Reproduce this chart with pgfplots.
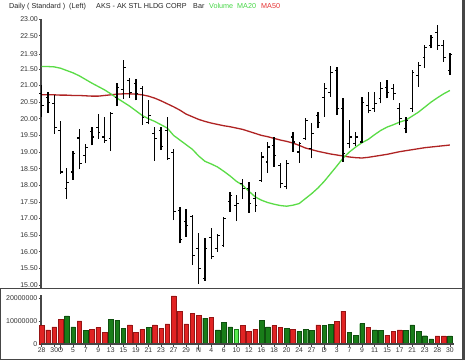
\documentclass[border=0pt]{standalone}
\usepackage{pgfplots}
\pgfplotsset{compat=1.18}
\usepackage{pgfplotstable}
\usepackage{fontspec}
\setmainfont{Liberation Sans}
\definecolor{ma20}{RGB}{90,220,70}
\definecolor{ma50}{RGB}{175,35,35}
\definecolor{vred}{RGB}{225,35,35}
\definecolor{vredd}{RGB}{150,20,20}
\definecolor{vgrn}{RGB}{25,125,25}
\definecolor{vgrnd}{RGB}{15,80,15}
\definecolor{vlgrn}{RGB}{90,235,80}
\definecolor{frm}{RGB}{70,70,70}
\definecolor{ttlgreen}{RGB}{70,215,70}
\definecolor{ttlred}{RGB}{230,50,50}

\pgfplotstableread{
i o h l c
0 20.75 21.02 20.05 20.40
1 20.65 20.81 20.18 20.50
2 20.45 20.72 19.55 19.75
3 19.65 19.93 18.35 18.40
4 17.90 18.52 17.58 18.08
5 18.40 19.02 18.16 18.95
6 19.42 19.70 18.48 18.66
7 18.90 19.23 18.66 19.13
8 19.62 19.75 19.20 19.45
9 19.75 20.15 19.40 19.60
10 19.45 20.05 19.28 19.35
11 19.40 20.20 19.03 20.15
12 20.65 21.08 20.38 20.95
13 20.88 21.77 20.60 21.54
14 21.15 21.24 20.63 20.80
15 21.05 21.20 20.55 20.75
16 20.90 21.00 19.82 20.05
17 19.88 20.56 19.83 20.10
18 19.55 19.76 18.73 19.40
19 19.66 19.76 19.06 19.16
20 19.65 20.06 18.76 18.80
21 18.98 19.10 16.95 17.20
22 17.23 17.35 16.25 16.37
23 16.90 17.30 16.45 16.80
24 17.05 17.10 15.60 15.88
25 16.10 16.55 15.03 15.50
26 15.20 16.40 15.13 16.10
27 16.42 16.70 15.77 15.85
28 16.10 16.52 16.00 16.50
29 16.20 17.05 16.15 17.00
30 17.50 17.80 17.20 17.70
31 17.40 17.72 16.92 17.45
32 18.05 18.20 17.58 17.90
33 17.90 18.11 17.18 17.45
34 17.60 17.81 17.20 17.40
35 18.13 19.01 18.11 18.85
36 18.70 19.30 18.38 19.15
37 19.20 19.46 18.56 18.90
38 18.60 18.66 17.91 18.05
39 17.95 18.76 17.88 18.65
40 19.45 19.61 19.01 19.30
41 19.00 19.31 18.68 19.25
42 19.40 20.01 19.36 19.95
43 19.10 19.86 18.81 19.55
44 20.10 20.21 19.71 19.90
45 20.65 21.07 20.06 20.90
46 20.80 21.60 20.66 21.40
47 21.45 21.55 20.11 20.30
48 20.30 20.63 18.70 18.95
49 19.25 19.96 19.11 19.45
50 19.25 19.60 19.18 19.45
51 19.30 20.66 19.26 20.50
52 20.40 20.81 20.16 20.25
53 20.30 20.81 20.21 20.45
54 20.60 21.11 20.46 20.90
55 20.95 21.17 20.61 20.80
56 20.90 21.06 20.56 20.75
57 20.30 20.46 19.81 20.00
58 19.70 20.06 19.56 19.95
59 20.30 21.47 20.21 21.40
60 21.30 21.72 20.97 21.60
61 21.85 22.22 21.52 22.15
62 22.20 22.52 22.12 22.45
63 22.60 22.82 22.07 22.20
64 22.20 22.37 21.72 21.85
65 21.45 21.97 21.32 21.93
}\ohlc

\pgfplotstableread{
i ma20 ma50
0 21.57 20.72
1 21.57 20.72
2 21.56 20.72
3 21.52 20.71
4 21.45 20.71
5 21.38 20.70
6 21.29 20.70
7 21.18 20.69
8 21.07 20.68
9 20.97 20.68
10 20.87 20.70
11 20.75 20.72
12 20.62 20.74
13 20.50 20.75
14 20.38 20.75
15 20.24 20.74
16 20.10 20.72
17 20.00 20.68
18 19.92 20.62
19 19.82 20.54
20 19.72 20.45
21 19.50 20.36
22 19.36 20.26
23 19.22 20.14
24 19.08 20.06
25 18.88 19.98
26 18.72 19.92
27 18.64 19.87
28 18.55 19.83
29 18.42 19.79
30 18.28 19.76
31 18.12 19.72
32 18.00 19.68
33 17.82 19.62
34 17.65 19.56
35 17.55 19.50
36 17.48 19.46
37 17.43 19.41
38 17.39 19.36
39 17.37 19.32
40 17.40 19.27
41 17.45 19.20
42 17.60 19.12
43 17.75 19.07
44 17.92 19.02
45 18.12 18.98
46 18.35 18.94
47 18.58 18.91
48 18.82 18.88
49 19.00 18.85
50 19.15 18.83
51 19.28 18.82
52 19.38 18.84
53 19.52 18.87
54 19.65 18.90
55 19.75 18.93
56 19.82 18.97
57 19.90 19.01
58 19.96 19.04
59 20.08 19.07
60 20.20 19.10
61 20.35 19.13
62 20.50 19.15
63 20.63 19.17
64 20.75 19.19
65 20.85 19.21
}\mas

\begin{document}
\begin{tikzpicture}
\path[fill=white, use as bounding box] (0pt,0pt) rectangle (465pt,360pt);

% title line
\begin{scope}[every node/.style={anchor=base west, inner sep=0pt, font=\fontsize{7.2}{8}\selectfont}]
\node[text=black!85] at (9pt,351.5pt) {Daily ( Standard )\ \ (Left)};
\node[text=black!85] at (96pt,351.5pt) {AKS - AK STL HLDG CORP};
\node[text=black!85] at (193pt,351.5pt) {Bar};
\node[text=ttlgreen] at (209pt,351.5pt) {Volume};
\node[text=ttlgreen] at (237pt,351.5pt) {MA20};
\node[text=ttlred] at (261pt,351.5pt) {MA50};
\end{scope}

% price panel
\begin{axis}[at={(41pt,72pt)}, anchor=south west, scale only axis,
  width=421pt, height=269pt,
  xmin=-0.11, xmax=66.93, ymin=14.91, ymax=23,
  axis x line=none, axis y line*=left,
  axis line style={frm, line width=1.1pt},
  ytick={15,15.5,16,16.5,17,17.5,18,18.5,19,19.5,20,20.5,21,21.5,22.5,23},
  yticklabels={15.00,15.50,16.00,16.50,17.00,17.50,18.00,18.50,19.00,19.50,20.00,20.50,21.00,21.50,22.50,23.00},
  extra y ticks={21.93}, extra y tick labels={21.93},
  tick align=outside, major tick length=2pt,
  tick style={frm, line width=0.6pt},
  yticklabel style={font=\fontsize{7}{8}\selectfont, text=black!80, inner sep=1pt},
  clip=false]
\addplot[ma50, line width=1.3pt] table[x=i, y=ma50] {\mas};
\addplot[ma20, line width=1.3pt] table[x=i, y=ma20] {\mas};
\addplot[black, line width=1.3pt, quiver={u=0, v=\thisrow{h}-\thisrow{l}}] table[x=i, y=l] {\ohlc};
\addplot[black, line width=1.1pt, quiver={u=-0.36, v=0}] table[x=i, y=o] {\ohlc};
\addplot[black, line width=1.1pt, quiver={u=0.36, v=0}] table[x=i, y=c] {\ohlc};
\end{axis}

% volume panel
\begin{axis}[at={(41pt,16pt)}, anchor=south west, scale only axis,
  width=421pt, height=49pt,
  xmin=-0.11, xmax=66.93, ymin=0, ymax=21.3,
  axis y line*=left, axis x line*=bottom,
  x axis line style={draw=none},
  y axis line style={frm, line width=1.1pt},
  ytick={0,10,20}, yticklabels={0,10000000,20000000},
  xtick={0,2,3,5,7,9,11,13,15,17,19,21,23,25,27,29,31,33,35,37,39,41,43,45,47,49,51,53,55,57,59,61,63,65},
  xticklabels={28,30,O,5,7,9,13,15,19,21,23,27,29,N,4,6,10,12,16,18,20,24,27,D,3,7,9,11,15,17,21,23,28,30},
  extra x ticks={3,25,45}, extra x tick labels={},
  extra x tick style={major tick length=6pt},
  tick align=outside, major tick length=2.5pt,
  tick style={frm, line width=0.6pt},
  yticklabel style={font=\fontsize{7}{8}\selectfont, text=black!80, inner sep=1pt},
  xticklabel style={font=\fontsize{6.8}{8}\selectfont, text=black!80, inner sep=1pt},
  ybar, bar width=0.72,
  clip=false]
\addplot[fill=vred, draw=vredd, line width=0.4pt, bar shift=0pt] coordinates {
(0,8.0) (1,6.1) (2,7.5) (3,10.7) (6,10.1) (8,6.5) (9,7.1) (10,5.1)
(14,8.3) (15,5.1) (16,6.4) (18,8.3) (19,6.8) (20,8.8) (21,20.9) (22,14.1)
(23,8.7) (24,13.3) (25,12.6) (27,11.5) (32,8.0) (33,5.5) (34,6.4) (37,8.0)
(38,7.1) (40,6.5) (44,8.3) (47,10.0) (48,14.3) (52,7.2) (55,3.9) (56,5.4)
(57,6.1) (63,3.5) (64,3.5)};
\addplot[fill=vgrn, draw=vgrnd, line width=0.4pt, bar shift=0pt] coordinates {
(4,12.2) (5,7.5) (7,5.8) (11,10.7) (12,10.4) (13,6.8) (17,7.1) (26,11.2)
(28,6.1) (29,9.4) (30,7.5) (35,10.4) (36,7.5) (39,6.8) (41,5.5) (42,6.5)
(43,5.8) (45,8.0) (46,8.6) (49,5.1) (50,3.9) (51,8.9) (53,6.1) (54,5.8)
(58,5.8) (59,8.3) (60,5.4) (61,3.6) (62,2.2) (65,3.5)};
\addplot[fill=vlgrn, draw=vgrn, line width=0.4pt, bar shift=0pt] coordinates {(31,6.4)};
\draw[frm, line width=1.1pt] (axis cs:-0.11,0) -- (axis cs:65.6,0);
\end{axis}

% frame lines
\draw[frm, line width=1.4pt] (0pt,71.5pt) -- (463pt,71.5pt);
\draw[frm, line width=2.5pt] (463.5pt,0pt) -- (463.5pt,360pt);
\draw[frm, line width=1pt] (0.5pt,71.5pt) -- (0.5pt,0.5pt) -- (463pt,0.5pt);
\end{tikzpicture}
\end{document}
